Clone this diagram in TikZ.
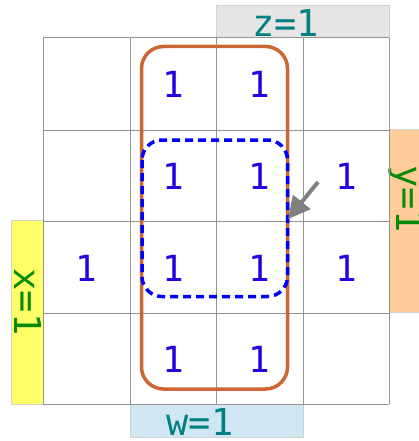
\documentclass[tikz,border=0pt]{standalone}
\usepackage{fontspec}
\usetikzlibrary{arrows.meta}
\newfontfamily\kmapfont{DejaVu Sans Mono}
\definecolor{oneblue}{HTML}{2A00E0}
\definecolor{labteal}{HTML}{008080}
\definecolor{labgreen}{HTML}{0A8A0A}
\definecolor{zbar}{HTML}{E6E6E6}
\definecolor{wbar}{HTML}{D0E6F2}
\definecolor{ybar}{HTML}{FFCC99}
\definecolor{xbar}{HTML}{FFFF66}
\definecolor{grouporange}{HTML}{CC6633}
\begin{document}
\begin{tikzpicture}[x=1pt,y=-1pt,
    one/.style={font=\kmapfont\fontsize{36}{40}\selectfont, text=oneblue, anchor=base, inner sep=0pt},
    varlab/.style={font=\kmapfont\fontsize{37}{40}\selectfont, anchor=base, inner sep=0pt},
    bar/.style={draw=gray!35, line width=1}]
    \useasboundingbox (0,0) rectangle (418,441);
    % variable bars
    \filldraw[bar, fill=zbar] (216,6) rectangle (389,38);
    \filldraw[bar, fill=wbar] (130,404) rectangle (303,437);
    \filldraw[bar, fill=ybar] (389,129) rectangle (420,312);
    \filldraw[bar, fill=xbar] (11,220) rectangle (43,404);
    \node[varlab, text=labteal] (zlab) at (285.5,36.5) {z=1};
    \node[varlab, text=labteal] (wlab) at (200,435) {w=1};
    \node[varlab, text=labgreen, rotate=-90] (xlab) at (14,302) {x=1};
    \node[varlab, text=labgreen, rotate=-90] (ylab) at (396,199) {y=1};
    % grid
    \foreach \x in {43,130,216,303,389}
        \draw[gray!85, line width=1] (\x,38) -- (\x,404);
    \foreach \y in {38,130,221,313,404}
        \draw[gray!85, line width=1] (43,\y) -- (389,\y);
    % the ones
    \node[one] (c12) at (173,97.5) {1};
    \node[one] (c13) at (259.5,97.5) {1};
    \node[one] (c22) at (173,189) {1};
    \node[one] (c23) at (259.5,189) {1};
    \node[one] (c24) at (346,189) {1};
    \node[one] (c31) at (86.5,281) {1};
    \node[one] (c32) at (173,281) {1};
    \node[one] (c33) at (259.5,281) {1};
    \node[one] (c34) at (346,281) {1};
    \node[one] (c42) at (173,372) {1};
    \node[one] (c43) at (259.5,372) {1};
    % groups
    \draw[grouporange, line width=3.5, rounded corners=22] (141.5,46.5) rectangle (287.5,389);
    \draw[blue, line width=3.5, dash pattern=on 8 off 5, rounded corners=20] (142,140) rectangle (287.5,296.5);
    % pointer
    \coordinate (tail) at (318,182);
    \coordinate (tip) at (288,219);
    \draw[gray, line width=4, -{Triangle[length=22,width=22]}] (tail) -- (tip);
\end{tikzpicture}
\end{document}
